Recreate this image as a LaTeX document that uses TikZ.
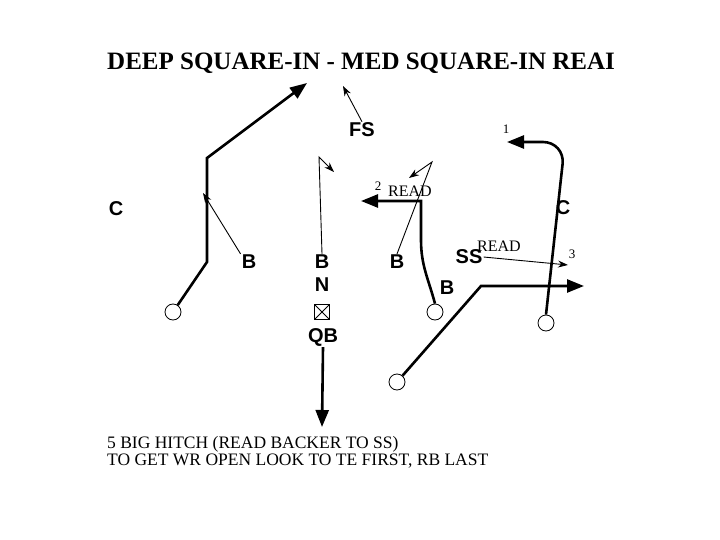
\documentclass[tikz,border=0pt]{standalone}
\usepackage{fontspec}
\setmainfont{Liberation Serif}
\setsansfont{Liberation Sans}
\usetikzlibrary{arrows.meta}
\definecolor{inkcol}{HTML}{000000}
\definecolor{papercol}{HTML}{FFFFFF}

\begin{document}
\begin{tikzpicture}[x=1pt,y=-1pt,
	player/.style={circle,draw=inkcol,fill=papercol,line width=0.8pt,minimum size=16pt,inner sep=0pt},
	lbl/.style={font=\sffamily\bfseries\fontsize{20}{20}\selectfont,inner sep=1pt,text=inkcol},
	note/.style={font=\fontsize{16}{16}\selectfont,inner sep=0pt},
	num/.style={font=\fontsize{13}{13}\selectfont,inner sep=0pt},
	route/.style={draw=inkcol,line width=2.6pt,-{Triangle[length=17pt,width=13pt]}},
	readline/.style={draw=inkcol,line width=0.9pt,-{Stealth[length=10pt,width=7pt]}}]
\useasboundingbox[fill=papercol] (0,0) rectangle (720,540);

% title
\node[font=\bfseries\fontsize{25}{25}\selectfont,anchor=west,inner sep=0pt] (title) at (107,63) {DEEP SQUARE-IN - MED SQUARE-IN REAI};

% players
\foreach \nm/\px/\py in {wrL/173/312, rb/435/312, te/397/382, wrR/546/323}{
	\node[player] (\nm) at (\px,\py) {};
	}
\node[draw=inkcol,line width=0.8pt,minimum size=15pt,inner sep=0pt,
	path picture={\draw (path picture bounding box.south west) -- (path picture bounding box.north east)
		(path picture bounding box.north west) -- (path picture bounding box.south east);}] (qb) at (322,312) {};

% defenders and labels
\foreach \nm/\txt/\px/\py in {cL/C/116/209, bL/B/249/262, fs/FS/362/130, bM/B/322/262,
	nM/N/322/285, qbt/QB/323/337, bR/B/397/262, bS/B/447/288, ss/SS/469/257, cR/C/563/208}{
	\node[lbl] (\nm) at (\px,\py) {\txt};
	}

% route numbers and reads
\node[num] (n2) at (378,186) {2};
\node[note] (read2) at (410,191) {READ};
\node[note] (readS) at (499,246) {READ};
\node[num] (n1) at (506,129) {1};
\node[num] (n3) at (572,254) {3};

% route points
\coordinate (lBreak) at (207,262);
\coordinate (lPost) at (207,158);
\coordinate (lEnd) at (307,83);
\coordinate (rbTop) at (421,201);
\coordinate (rbEnd) at (361,201);
\coordinate (teBreak) at (481,286);
\coordinate (teEnd) at (584,286);
\coordinate (wrTop) at (565,142);
\coordinate (wrEnd) at (507,142);
\coordinate (qbEnd) at (322,427);

\draw[route] (wrL) -- (lBreak) -- (lPost) -- (lEnd);
\draw[route] (rb.north) to[out=105,in=-90] (421,240) -- (rbTop) -- (rbEnd);
\draw[route] (te) -- (teBreak) -- (teEnd);
\draw[route,rounded corners=22pt] (wrR.north) -- (wrTop) -- (wrEnd);
\draw[route] (qbt.south) -- (qbEnd);

% defender reads
\coordinate (bLEnd) at (203,193);
\coordinate (fsEnd) at (343,86);
\coordinate (bMTop) at (319,157);
\coordinate (bMEnd) at (334,172);
\coordinate (bRTop) at (432,162);
\coordinate (bREnd) at (409,178);
\coordinate (ssEnd) at (568,265);

\draw[readline] (bL.north west) -- (bLEnd);
\draw[readline] (fs.north) -- (fsEnd);
\draw[readline] (bM.north) -- (bMTop) -- (bMEnd);
\draw[readline] (bR.north) -- (bRTop) -- (bREnd);
\draw[readline] (ss.east) -- (ssEnd);

% call
\node[note,font=\fontsize{17.5}{17}\selectfont,align=left,anchor=north west] (call) at (107,436)
	{5 BIG HITCH (READ BACKER TO SS)\\TO GET WR OPEN LOOK TO TE FIRST, RB LAST};
\end{tikzpicture}
\end{document}
